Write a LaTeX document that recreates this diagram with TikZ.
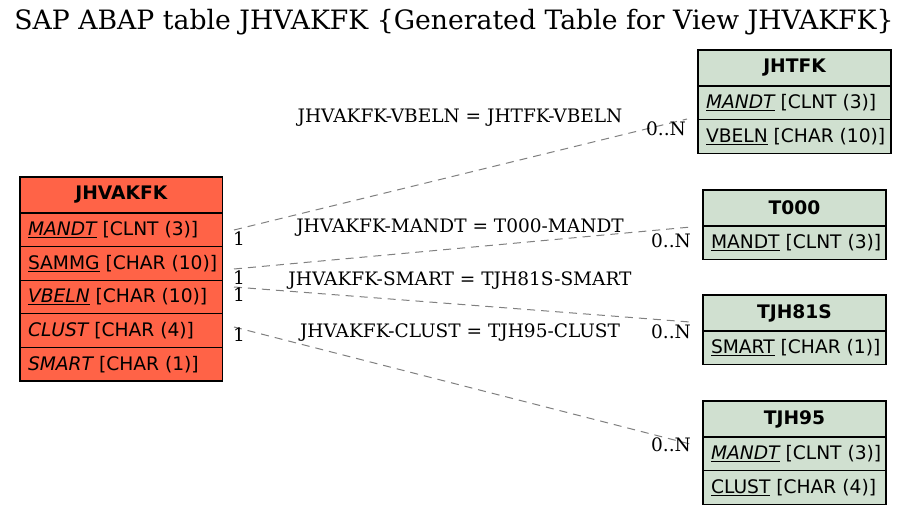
\documentclass[tikz,border=0pt]{standalone}
\usepackage{fontspec}
\setmainfont{DejaVu Serif}
\newfontfamily\tabfont{DejaVu Sans}
\definecolor{lefttab}{RGB}{255,99,71}
\definecolor{righttab}{RGB}{208,224,208}
\definecolor{edgegray}{RGB}{128,128,128}
\begin{document}
\begin{tikzpicture}[x=0.75pt,y=-0.75pt,
  cell/.style={draw=black, line width=0.9pt, anchor=north west, inner xsep=6pt, inner ysep=0pt, outer sep=0pt,
    minimum height=25.2pt, font=\tabfont\fontsize{14}{16}\selectfont},
  lcell/.style={cell, fill=lefttab},
  rcell/.style={cell, fill=righttab},
  hdr/.style={minimum height=27pt, font=\tabfont\bfseries\fontsize{14}{16}\selectfont},
  rel/.style={draw=edgegray, dashed, dash pattern=on 6pt off 4.5pt, line width=0.75pt},
  lbl/.style={font=\fontsize{13.9}{15}\selectfont, inner sep=0pt},
  card/.style={font=\fontsize{13.9}{15}\selectfont, inner sep=0pt}
]
\useasboundingbox (0,0) rectangle (912,516);
\fill[white] (0,0) rectangle (912,516);
\node[font=\fontsize{20}{22}\selectfont, inner sep=0pt] (title) at (454,22) {SAP ABAP table JHVAKFK \{Generated Table for View JHVAKFK\}};

% left table
\node[lcell,hdr] (L0) at (20,177) {\makebox[140pt][c]{JHVAKFK}};
\node[lcell] (L1) at (L0.south west) {\makebox[140pt][l]{\underline{\itshape MANDT} [CLNT (3)]}};
\node[lcell] (L2) at (L1.south west) {\makebox[140pt][l]{\underline{SAMMG} [CHAR (10)]}};
\node[lcell] (L3) at (L2.south west) {\makebox[140pt][l]{\underline{\itshape VBELN} [CHAR (10)]}};
\node[lcell] (L4) at (L3.south west) {\makebox[140pt][l]{{\itshape CLUST} [CHAR (4)]}};
\node[lcell] (L5) at (L4.south west) {\makebox[140pt][l]{{\itshape SMART} [CHAR (1)]}};

% JHTFK
\node[rcell,hdr] (A0) at (698,50) {\makebox[132.75pt][c]{JHTFK}};
\node[rcell] (A1) at (A0.south west) {\makebox[132.75pt][l]{\underline{\itshape MANDT} [CLNT (3)]}};
\node[rcell] (A2) at (A1.south west) {\makebox[132.75pt][l]{\underline{VBELN} [CHAR (10)]}};

% T000
\node[rcell,hdr] (B0) at (703,190) {\makebox[125.25pt][c]{T000}};
\node[rcell] (B1) at (B0.south west) {\makebox[125.25pt][l]{\underline{MANDT} [CLNT (3)]}};

% TJH81S
\node[rcell,hdr] (C0) at (703,295) {\makebox[125.25pt][c]{TJH81S}};
\node[rcell] (C1) at (C0.south west) {\makebox[125.25pt][l]{\underline{SMART} [CHAR (1)]}};

% TJH95
\node[rcell,hdr] (D0) at (703,401) {\makebox[125.25pt][c]{TJH95}};
\node[rcell] (D1) at (D0.south west) {\makebox[125.25pt][l]{\underline{\itshape MANDT} [CLNT (3)]}};
\node[rcell] (D2) at (D1.south west) {\makebox[125.25pt][l]{\underline{CLUST} [CHAR (4)]}};

% connector ends
\coordinate (s1) at (234,230);
\coordinate (e1) at (687,119);
\coordinate (s2) at (234,269);
\coordinate (e2) at (691,227);
\coordinate (s3) at (234,287);
\coordinate (e3) at (690,322);
\coordinate (s4) at (234,327);
\coordinate (e4) at (690,444);

\draw[rel] (s1) -- (e1);
\draw[rel] (s2) -- (e2);
\draw[rel] (s3) -- (e3);
\draw[rel] (s4) -- (e4);

\node[lbl] (r1) at (460,118) {JHVAKFK-VBELN = JHTFK-VBELN};
\node[lbl] (r2) at (460,228) {JHVAKFK-MANDT = T000-MANDT};
\node[lbl] (r3) at (460,281) {JHVAKFK-SMART = TJH81S-SMART};
\node[lbl] (r4) at (460,333) {JHVAKFK-CLUST = TJH95-CLUST};

\node[card] (o1) at (239,239) {1};
\node[card] (o2) at (239,278) {1};
\node[card] (o3) at (239,295) {1};
\node[card] (o4) at (239,335) {1};
\node[card] (n1) at (666,129) {0..N};
\node[card] (n2) at (671,241) {0..N};
\node[card] (n3) at (671,332) {0..N};
\node[card] (n4) at (671,445) {0..N};
\end{tikzpicture}
\end{document}
